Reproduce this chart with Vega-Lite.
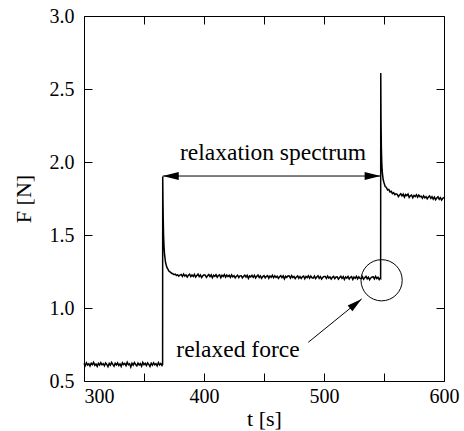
{
  "$schema": "https://vega.github.io/schema/vega-lite/v6.json",
  "width": 360,
  "height": 365,
  "autosize": "none",
  "padding": {"left": 84, "top": 16, "right": 20, "bottom": 50},
  "config": {
    "view": {"stroke": "#000", "strokeWidth": 1},
    "font": "'Liberation Serif', 'Times New Roman', serif",
    "axis": {
      "grid": false,
      "domain": false,
      "tickColor": "#000",
      "tickWidth": 1,
      "labelColor": "#000",
      "titleColor": "#000",
      "labelFont": "'Liberation Serif', 'Times New Roman', serif",
      "titleFont": "'Liberation Serif', 'Times New Roman', serif",
      "labelFontSize": 20,
      "titleFontSize": 22,
      "titleFontWeight": "normal"
    }
  },
  "datasets": {
    "signal": [
      {"t":300,"F":0.62},{"t":301,"F":0.605},{"t":302,"F":0.625},{"t":303,"F":0.61},{"t":304,"F":0.618},{"t":305,"F":0.603},{"t":306,"F":0.622},{"t":307,"F":0.612},{"t":308,"F":0.628},{"t":309,"F":0.607},
      {"t":310,"F":0.616},{"t":311,"F":0.6},{"t":312,"F":0.621},{"t":313,"F":0.609},{"t":314,"F":0.626},{"t":315,"F":0.611},{"t":316,"F":0.619},{"t":317,"F":0.604},{"t":318,"F":0.623},{"t":319,"F":0.613},
      {"t":320,"F":0.598},{"t":321,"F":0.62},{"t":322,"F":0.608},{"t":323,"F":0.627},{"t":324,"F":0.614},{"t":325,"F":0.602},{"t":326,"F":0.621},{"t":327,"F":0.61},{"t":328,"F":0.624},{"t":329,"F":0.606},
      {"t":330,"F":0.617},{"t":331,"F":0.6},{"t":332,"F":0.625},{"t":333,"F":0.612},{"t":334,"F":0.62},{"t":335,"F":0.605},{"t":336,"F":0.629},{"t":337,"F":0.611},{"t":338,"F":0.618},{"t":339,"F":0.596},
      {"t":340,"F":0.622},{"t":341,"F":0.609},{"t":342,"F":0.626},{"t":343,"F":0.613},{"t":344,"F":0.604},{"t":345,"F":0.623},{"t":346,"F":0.61},{"t":347,"F":0.619},{"t":348,"F":0.601},{"t":349,"F":0.627},
      {"t":350,"F":0.612},{"t":351,"F":0.621},{"t":352,"F":0.606},{"t":353,"F":0.624},{"t":354,"F":0.614},{"t":355,"F":0.599},{"t":356,"F":0.622},{"t":357,"F":0.608},{"t":358,"F":0.625},{"t":359,"F":0.611},
      {"t":360,"F":0.619},{"t":361,"F":0.603},{"t":362,"F":0.626},{"t":363,"F":0.61},{"t":364,"F":0.62},{"t":365,"F":0.607},{"t":365.5,"F":0.615},
      {"t":365.6,"F":1.9},{"t":365.8,"F":1.75},{"t":366,"F":1.62},{"t":366.3,"F":1.5},{"t":366.7,"F":1.42},{"t":367.2,"F":1.36},{"t":368,"F":1.31},{"t":369,"F":1.28},
      {"t":370,"F":1.265},{"t":371,"F":1.25},{"t":372,"F":1.245},{"t":373,"F":1.238},{"t":374,"F":1.235},{"t":375,"F":1.228},{"t":376,"F":1.232},{"t":377,"F":1.222},{"t":378,"F":1.228},{"t":379,"F":1.218},{"t":380,"F":1.226},
      {"t":381,"F":1.23},{"t":382,"F":1.216},{"t":383,"F":1.233},{"t":384,"F":1.219},{"t":385,"F":1.227},{"t":386,"F":1.212},{"t":387,"F":1.224},{"t":388,"F":1.231},{"t":389,"F":1.215},{"t":390,"F":1.226},
      {"t":391,"F":1.216},{"t":392,"F":1.23},{"t":393,"F":1.212},{"t":394,"F":1.223},{"t":395,"F":1.232},{"t":396,"F":1.215},{"t":397,"F":1.226},{"t":398,"F":1.209},{"t":399,"F":1.221},{"t":400,"F":1.227},
      {"t":401,"F":1.225},{"t":402,"F":1.21},{"t":403,"F":1.221},{"t":404,"F":1.229},{"t":405,"F":1.215},{"t":406,"F":1.227},{"t":407,"F":1.207},{"t":408,"F":1.224},{"t":409,"F":1.217},{"t":410,"F":1.228},
      {"t":411,"F":1.211},{"t":412,"F":1.222},{"t":413,"F":1.227},{"t":414,"F":1.208},{"t":415,"F":1.224},{"t":416,"F":1.216},{"t":417,"F":1.229},{"t":418,"F":1.212},{"t":419,"F":1.226},{"t":420,"F":1.215},
      {"t":421,"F":1.224},{"t":422,"F":1.21},{"t":423,"F":1.227},{"t":424,"F":1.213},{"t":425,"F":1.221},{"t":426,"F":1.206},{"t":427,"F":1.218},{"t":428,"F":1.225},{"t":429,"F":1.209},{"t":430,"F":1.22},
      {"t":431,"F":1.221},{"t":432,"F":1.206},{"t":433,"F":1.217},{"t":434,"F":1.225},{"t":435,"F":1.211},{"t":436,"F":1.223},{"t":437,"F":1.203},{"t":438,"F":1.22},{"t":439,"F":1.213},{"t":440,"F":1.224},
      {"t":441,"F":1.21},{"t":442,"F":1.224},{"t":443,"F":1.206},{"t":444,"F":1.217},{"t":445,"F":1.226},{"t":446,"F":1.209},{"t":447,"F":1.22},{"t":448,"F":1.203},{"t":449,"F":1.215},{"t":450,"F":1.221},
      {"t":451,"F":1.206},{"t":452,"F":1.217},{"t":453,"F":1.222},{"t":454,"F":1.203},{"t":455,"F":1.219},{"t":456,"F":1.211},{"t":457,"F":1.224},{"t":458,"F":1.207},{"t":459,"F":1.221},{"t":460,"F":1.21},
      {"t":461,"F":1.218},{"t":462,"F":1.203},{"t":463,"F":1.214},{"t":464,"F":1.222},{"t":465,"F":1.208},{"t":466,"F":1.22},{"t":467,"F":1.2},{"t":468,"F":1.217},{"t":469,"F":1.21},{"t":470,"F":1.221},
      {"t":471,"F":1.219},{"t":472,"F":1.205},{"t":473,"F":1.222},{"t":474,"F":1.208},{"t":475,"F":1.216},{"t":476,"F":1.201},{"t":477,"F":1.213},{"t":478,"F":1.22},{"t":479,"F":1.204},{"t":480,"F":1.215},
      {"t":481,"F":1.203},{"t":482,"F":1.214},{"t":483,"F":1.219},{"t":484,"F":1.2},{"t":485,"F":1.216},{"t":486,"F":1.208},{"t":487,"F":1.221},{"t":488,"F":1.204},{"t":489,"F":1.218},{"t":490,"F":1.207},
      {"t":491,"F":1.205},{"t":492,"F":1.219},{"t":493,"F":1.201},{"t":494,"F":1.212},{"t":495,"F":1.221},{"t":496,"F":1.204},{"t":497,"F":1.215},{"t":498,"F":1.198},{"t":499,"F":1.21},{"t":500,"F":1.216},
      {"t":501,"F":1.216},{"t":502,"F":1.202},{"t":503,"F":1.219},{"t":504,"F":1.205},{"t":505,"F":1.213},{"t":506,"F":1.198},{"t":507,"F":1.21},{"t":508,"F":1.217},{"t":509,"F":1.201},{"t":510,"F":1.212},
      {"t":511,"F":1.213},{"t":512,"F":1.198},{"t":513,"F":1.209},{"t":514,"F":1.217},{"t":515,"F":1.203},{"t":516,"F":1.215},{"t":517,"F":1.195},{"t":518,"F":1.212},{"t":519,"F":1.205},{"t":520,"F":1.216},
      {"t":521,"F":1.199},{"t":522,"F":1.21},{"t":523,"F":1.215},{"t":524,"F":1.196},{"t":525,"F":1.212},{"t":526,"F":1.204},{"t":527,"F":1.217},{"t":528,"F":1.2},{"t":529,"F":1.214},{"t":530,"F":1.203},
      {"t":531,"F":1.201},{"t":532,"F":1.215},{"t":533,"F":1.197},{"t":534,"F":1.208},{"t":535,"F":1.217},{"t":536,"F":1.2},{"t":537,"F":1.211},{"t":538,"F":1.194},{"t":539,"F":1.206},{"t":540,"F":1.212},
      {"t":541,"F":1.213},{"t":542,"F":1.199},{"t":543,"F":1.216},{"t":544,"F":1.202},{"t":545,"F":1.21},{"t":546,"F":1.195},{"t":547,"F":1.207},{"t":547.2,"F":1.205},
      {"t":547.3,"F":2.61},{"t":547.5,"F":2.3},{"t":547.8,"F":2.1},{"t":548.2,"F":1.98},{"t":548.7,"F":1.92},{"t":549.3,"F":1.88},
      {"t":550,"F":1.858},{"t":551,"F":1.832},{"t":552,"F":1.826},{"t":553,"F":1.808},{"t":554,"F":1.812},{"t":555,"F":1.795},{"t":556,"F":1.799},{"t":557,"F":1.784},{"t":558,"F":1.79},{"t":559,"F":1.776},{"t":560,"F":1.782},
      {"t":561,"F":1.778},{"t":562,"F":1.763},{"t":563,"F":1.774},{"t":564,"F":1.782},{"t":565,"F":1.768},{"t":566,"F":1.78},{"t":567,"F":1.76},{"t":568,"F":1.777},{"t":569,"F":1.77},{"t":570,"F":1.781},
      {"t":571,"F":1.758},{"t":572,"F":1.769},{"t":573,"F":1.774},{"t":574,"F":1.755},{"t":575,"F":1.771},{"t":576,"F":1.763},{"t":577,"F":1.776},{"t":578,"F":1.759},{"t":579,"F":1.773},{"t":580,"F":1.762},
      {"t":581,"F":1.766},{"t":582,"F":1.752},{"t":583,"F":1.769},{"t":584,"F":1.755},{"t":585,"F":1.763},{"t":586,"F":1.748},{"t":587,"F":1.76},{"t":588,"F":1.767},{"t":589,"F":1.751},{"t":590,"F":1.762},
      {"t":591,"F":1.746},{"t":592,"F":1.76},{"t":593,"F":1.742},{"t":594,"F":1.753},{"t":595,"F":1.762},{"t":596,"F":1.745},{"t":597,"F":1.756},{"t":598,"F":1.739},{"t":599,"F":1.751},{"t":600,"F":1.757}
    ],
    "span": [{"t1": 365.6, "t2": 547.2, "F": 1.904}],
    "pointer": [{"t1": 486.9, "F1": 0.765, "t2": 531.4, "F2": 1.062}],
    "circle": [{"t": 548, "F": 1.19}],
    "labels": [
      {"t": 457.5, "F": 2.065, "label": "relaxation spectrum"},
      {"t": 428.3, "F": 0.712, "label": "relaxed force"}
    ]
  },
  "resolve": {"axis": {"x": "independent", "y": "independent"}},
  "layer": [
    {
      "data": {"name": "signal"},
      "mark": {"type": "line", "color": "#000", "strokeWidth": 1.5, "interpolate": "linear"},
      "encoding": {
        "x": {
          "field": "t", "type": "quantitative",
          "scale": {"domain": [300, 600], "nice": false, "zero": false},
          "axis": {
            "orient": "bottom",
            "values": [300, 400, 500, 600],
            "format": "d",
            "ticks": false,
            "tickSize": 0,
            "labelPadding": 5,
            "labelAlign": {"condition": {"test": "datum.value == 300", "value": "left"}, "value": "center"},
            "title": "t [s]",
            "titlePadding": 2
          }
        },
        "y": {
          "field": "F", "type": "quantitative",
          "scale": {"domain": [0.5, 3.0], "nice": false, "zero": false},
          "axis": {
            "orient": "left",
            "values": [0.5, 1.0, 1.5, 2.0, 2.5, 3.0],
            "format": ".1f",
            "ticks": false,
            "tickSize": 0,
            "labelPadding": 10,
            "title": "F [N]",
            "titlePadding": 14
          }
        }
      }
    },
    {
      "data": {"name": "span"},
      "mark": {"type": "rule", "color": "#000", "strokeWidth": 1},
      "encoding": {
        "x": {
          "field": "t1", "type": "quantitative",
          "axis": {"orient": "bottom", "offset": -8, "tickSize": 8, "values": [300, 350, 400, 450, 500, 550, 600], "labels": false, "title": null}
        },
        "x2": {"field": "t2"},
        "y": {
          "field": "F", "type": "quantitative",
          "axis": {"orient": "left", "offset": -8, "tickSize": 8, "values": [0.5, 1.0, 1.5, 2.0, 2.5, 3.0], "labels": false, "title": null}
        }
      }
    },
    {
      "data": {"name": "span"},
      "mark": {"type": "point", "shape": "M0,0L2,-0.5L2,0.5Z", "filled": true, "color": "#000", "size": 256, "opacity": 1},
      "encoding": {
        "x": {
          "field": "t1", "type": "quantitative",
          "axis": {"orient": "top", "offset": -8, "tickSize": 8, "values": [300, 350, 400, 450, 500, 550, 600], "labels": false, "title": null}
        },
        "y": {
          "field": "F", "type": "quantitative",
          "axis": {"orient": "right", "offset": -8, "tickSize": 8, "values": [0.5, 1.0, 1.5, 2.0, 2.5, 3.0], "labels": false, "title": null}
        }
      }
    },
    {
      "data": {"name": "span"},
      "mark": {"type": "point", "shape": "M0,0L-2,-0.5L-2,0.5Z", "filled": true, "color": "#000", "size": 256, "opacity": 1},
      "encoding": {
        "x": {"field": "t2", "type": "quantitative", "axis": null},
        "y": {"field": "F", "type": "quantitative", "axis": null}
      }
    },
    {
      "data": {"name": "circle"},
      "mark": {"type": "point", "shape": "circle", "filled": false, "color": "#000", "strokeWidth": 1, "size": 1700, "opacity": 1},
      "encoding": {
        "x": {"field": "t", "type": "quantitative", "axis": null},
        "y": {"field": "F", "type": "quantitative", "axis": null}
      }
    },
    {
      "data": {"name": "pointer"},
      "mark": {"type": "rule", "color": "#000", "strokeWidth": 1},
      "encoding": {
        "x": {"field": "t1", "type": "quantitative", "axis": null},
        "x2": {"field": "t2"},
        "y": {"field": "F1", "type": "quantitative", "axis": null},
        "y2": {"field": "F2"}
      }
    },
    {
      "data": {"name": "pointer"},
      "mark": {"type": "point", "shape": "M0,0L-2,-0.5L-2,0.5Z", "filled": true, "color": "#000", "size": 225, "angle": -39, "opacity": 1},
      "encoding": {
        "x": {"field": "t2", "type": "quantitative", "axis": null},
        "y": {"field": "F2", "type": "quantitative", "axis": null}
      }
    },
    {
      "data": {"name": "labels"},
      "mark": {"type": "text", "font": "'Liberation Serif', 'Times New Roman', serif", "fontSize": 23.5, "color": "#000", "align": "center", "baseline": "middle"},
      "encoding": {
        "x": {"field": "t", "type": "quantitative", "axis": null},
        "y": {"field": "F", "type": "quantitative", "axis": null},
        "text": {"field": "label"}
      }
    }
  ]
}
